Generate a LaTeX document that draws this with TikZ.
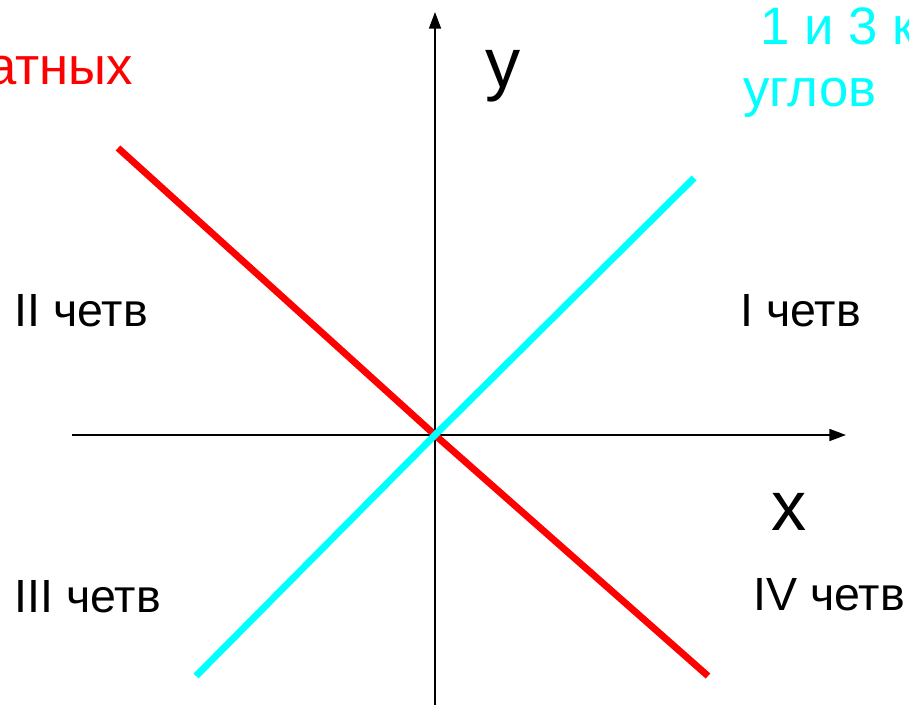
\documentclass[tikz,border=0pt]{standalone}
\usepackage{fontspec}
\setmainfont{Liberation Sans}
\usepackage{xcolor}
\definecolor{bisred}{RGB}{255,0,0}
\definecolor{biscyan}{RGB}{0,255,255}
\usetikzlibrary{arrows.meta,positioning}

\begin{document}
\begin{tikzpicture}[
        x=0.02cm, y=-0.02cm,
        axis/.style={line width=1.1pt, -{Triangle[length=9.5pt,width=6.8pt]}},
        bisector/.style={line width=3.9pt, draw=#1},
        quarter/.style={anchor=base west, inner sep=0pt, font=\fontsize{26.5}{30}\selectfont},
        axlabel/.style={anchor=base west, inner sep=0pt, font=\fontsize{40}{46}\selectfont},
        caption/.style={inner sep=0pt, text=#1, font=\fontsize{30}{36}\selectfont}
    ]
        \useasboundingbox (0,0) rectangle (909,705);

        % Axes
        \coordinate (o) at (435,435);
        \coordinate (xl) at (72,435);
        \coordinate (xr) at (846,435);
        \coordinate (yb) at (435,705);
        \coordinate (yt) at (435,12);
        \draw[axis] (xl) -- (xr);
        \draw[axis] (yb) -- (yt);

        % Bisectors
        \coordinate (r1) at (118,148);
        \coordinate (r2) at (708,676);
        \coordinate (c1) at (196,676);
        \coordinate (c2) at (694,178);
        \draw[bisector=bisred] (r1) -- (o) -- (r2);
        \draw[bisector=biscyan] (c1) -- (o) -- (c2);

        % Axis labels
        \node[axlabel] (ylab) at (485,88) {y};
        \node[axlabel] (xlab) at (771,530) {x};

        % Quarters
        \node[quarter] (q2) at (14,327) {II четв};
        \node[quarter] (q1) at (740,327) {I четв};
        \node[quarter] (q3) at (14,612) {III четв};
        \node[quarter] (q4) at (753,610) {IV четв};

        % Captions
        \node[caption=bisred, anchor=base east] (redcap) at (133,85) {атных};
        \node[caption=biscyan, anchor=base west] (cyancap1) at (760,45) {1 и 3 к};
        \node[caption=biscyan, anchor=base west] (cyancap2) at (743,107) {углов};
    \end{tikzpicture}
\end{document}
